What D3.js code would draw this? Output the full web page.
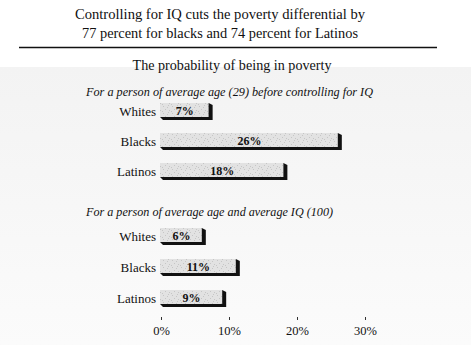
<!DOCTYPE html>
<html><head><meta charset="utf-8">
<script src="https://cdn.jsdelivr.net/npm/d3@7"></script>
<style>body{margin:0;background:#fff}svg{display:block}</style>
</head><body><svg id="c" width="471" height="345"></svg>
<script>
const titleLines = ["Controlling for IQ cuts the poverty differential by", "77 percent for blacks and 74 percent for Latinos"];
const subtitle = "The probability of being in poverty";
const headings = ["For a person of average age (29) before controlling for IQ", "For a person of average age and average IQ (100)"];
const categories = ["Whites", "Blacks", "Latinos"];
const beforeIQ = [7, 26, 18];
const afterIQ = [6, 11, 9];
const tickValues = [0, 10, 20, 30];
const tickLabels = ["0%", "10%", "20%", "30%"];

const FONT = "'Liberation Serif'";
const svg = d3.select("#c");
const defs = svg.append("defs");
const grad = defs.append("linearGradient").attr("id","bg").attr("x1",0).attr("y1",0).attr("x2",0).attr("y2",1);
grad.append("stop").attr("offset","0%").attr("stop-color","#f3f3f3");
grad.append("stop").attr("offset","100%").attr("stop-color","#fbfbfb");
svg.append("rect").attr("x",0).attr("y",67).attr("width",471).attr("height",278).attr("fill","url(#bg)");

const pat = defs.append("pattern").attr("id","spk").attr("patternUnits","userSpaceOnUse").attr("width",9).attr("height",7);
pat.append("rect").attr("width",9).attr("height",7).attr("fill","#e2e2e2");
[[1,1],[5,2],[3,4],[7,5],[0,6],[6,0]].forEach(p=>pat.append("rect").attr("x",p[0]).attr("y",p[1]).attr("width",1).attr("height",1).attr("fill","#c6c6c6"));

function txt(sel){ return sel.style("font-family",FONT).attr("fill","#111"); }

const titleW = [290, 276];
svg.selectAll("text.title").data(titleLines).join("text").attr("class","title")
  .attr("x",220).attr("y",(d,i)=>19+i*19).attr("text-anchor","middle")
  .attr("textLength",(d,i)=>titleW[i]).attr("lengthAdjust","spacingAndGlyphs")
  .style("font-size","15.5px").text(d=>d).call(txt);
svg.append("line").attr("x1",19).attr("x2",437).attr("y1",47.5).attr("y2",47.5).attr("stroke","#111").attr("stroke-width",1.6);
svg.append("text").attr("x",232).attr("y",70).attr("text-anchor","middle")
  .attr("textLength",199).attr("lengthAdjust","spacingAndGlyphs")
  .style("font-size","14.5px").text(subtitle).call(txt);

const x = d3.scaleLinear().domain([0,30]).range([161,365]);

const sections = [
  {heading: headings[0], hw: 287, hy: 95.5, values: beforeIQ, range:[110,170]},
  {heading: headings[1], hw: 247, hy: 215.5, values: afterIQ, range:[235,297]}
];

sections.forEach(s=>{
  svg.append("text").attr("x",86).attr("y",s.hy)
    .attr("textLength",s.hw).attr("lengthAdjust","spacingAndGlyphs")
    .style("font-size","12.5px").style("font-style","italic").text(s.heading).call(txt);
  const y = d3.scalePoint().domain(categories).range(s.range);
  const rows = svg.append("g").selectAll("g").data(categories.map((c,i)=>({c,v:s.values[i]}))).join("g");
  rows.append("text").attr("x",156).attr("y",d=>y(d.c)+5.5).attr("text-anchor","end").style("font-size","13px").text(d=>d.c).call(txt);
  rows.append("polygon").attr("fill","#111").attr("points",d=>{
    const x0=x(0)-1, x1=x(d.v), c=y(d.c);
    return [[x0,c+7],[x0+3,c+10],[x1+4,c+10],[x1+4,c-5],[x1,c-7]].map(p=>p.join(",")).join(" ");
  });
  rows.append("rect").attr("x",x(0)-1).attr("y",d=>y(d.c)-7).attr("width",d=>x(d.v)-x(0)+1).attr("height",14).attr("fill","url(#spk)");
  rows.append("text").attr("x",d=>(x(0)+x(d.v))/2).attr("y",d=>y(d.c)+4.5).attr("text-anchor","middle")
    .style("font-size","12px").style("font-weight","bold").text(d=>d.v+"%").call(txt);
});

const axis = svg.append("g").attr("transform","translate(0,317)")
  .call(d3.axisBottom(x).tickValues(tickValues).tickFormat((d,i)=>tickLabels[i]).tickSize(3).tickPadding(6));
axis.select(".domain").remove();
axis.selectAll("line").attr("stroke","#333");
axis.selectAll("text").style("font-size","12.5px").call(txt);
</script></body></html>
